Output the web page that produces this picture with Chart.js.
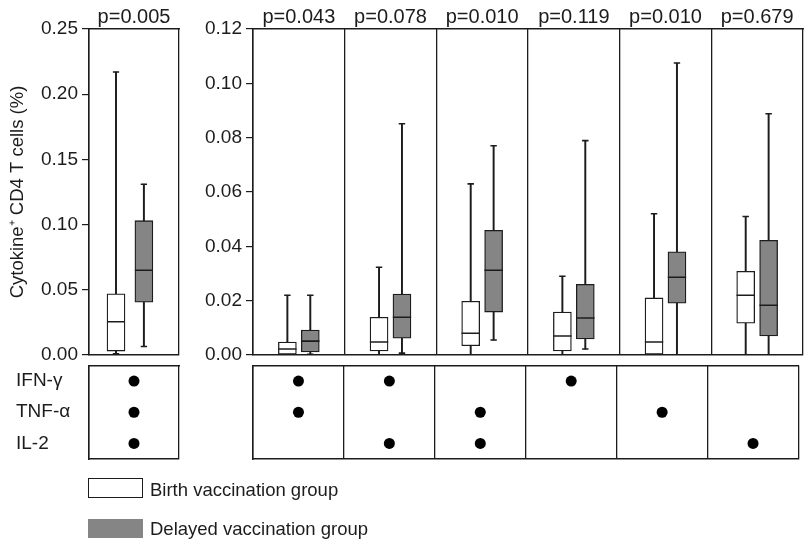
<!DOCTYPE html>
<html>
<head>
<meta charset="utf-8">
<script src="https://cdn.jsdelivr.net/npm/chart.js@4/dist/chart.umd.min.js"></script>
<style>
  body { margin: 0; background: #fff; width: 804px; height: 540px; position: relative; overflow: hidden;
         font-family: 'Liberation Sans', Arial, sans-serif; color: #1c1c1c; }
  canvas { position: absolute; }
  .key { position: absolute; left: 88px; width: 55px; box-sizing: border-box; }
  .lab { position: absolute; left: 150px; font-size: 18.5px; line-height: 22px; white-space: nowrap; }
</style>
</head>
<body>
<canvas id="boxL" width="185" height="368" style="left:0;top:0"></canvas>
<canvas id="boxR" width="622" height="368" style="left:182px;top:0"></canvas>
<canvas id="dotL" width="185" height="105" style="left:0;top:360px"></canvas>
<canvas id="dotR" width="622" height="105" style="left:182px;top:360px"></canvas>

<div class="key" style="top:478px;height:20px;border:1.5px solid #1c1c1c;background:#fff"></div>
<div class="lab" style="top:479px">Birth vaccination group</div>
<div class="key" style="top:519px;height:19px;background:#858585"></div>
<div class="lab" style="top:518px">Delayed vaccination group</div>

<script>
// Cytokine+ CD4 T cells, birth vs delayed BCG vaccination.
// Five-number summaries per panel: [min, q1, median, q3, max]

const cytokines = ['IFN-γ', 'TNF-α', 'IL-2'];

// left panel: triple producers, 0-0.25 scale
const leftP = ['p=0.005'];
const leftTicks = [0, 0.05, 0.10, 0.15, 0.20, 0.25];
const leftBirth = [[0.001, 0.003, 0.0255, 0.047, 0.217]];
const leftDelayed = [[0.0065, 0.0405, 0.065, 0.103, 0.131]];
const leftCombos = [['IFN-γ', 'TNF-α', 'IL-2']];

// right panels: double and single producers, 0-0.12 scale
const rightP = ['p=0.043', 'p=0.078', 'p=0.010', 'p=0.119', 'p=0.010', 'p=0.679'];
const rightTicks = [0, 0.02, 0.04, 0.06, 0.08, 0.10, 0.12];
const rightBirth = [
  [0, 0.0003, 0.0022, 0.0048, 0.022],
  [0, 0.0015, 0.0048, 0.0139, 0.0323],
  [0, 0.0034, 0.008, 0.0198, 0.063],
  [0, 0.0015, 0.007, 0.0158, 0.029],
  [0, 0.0003, 0.0048, 0.021, 0.052],
  [0, 0.0117, 0.022, 0.0308, 0.051]
];
const rightDelayed = [
  [0.0003, 0.0011, 0.0051, 0.0092, 0.022],
  [0.0007, 0.0062, 0.0139, 0.0224, 0.0851],
  [0.0055, 0.0158, 0.0312, 0.0459, 0.077],
  [0.0022, 0.0059, 0.0136, 0.026, 0.0789],
  [0, 0.0191, 0.0286, 0.038, 0.1075],
  [0, 0.007, 0.0183, 0.0422, 0.0888]
];
const rightCombos = [['IFN-γ', 'TNF-α'], ['IFN-γ', 'IL-2'], ['TNF-α', 'IL-2'], ['IFN-γ'], ['TNF-α'], ['IL-2']];

const INK = '#1c1c1c';
const GREY = '#858585';

Chart.defaults.font.family = "'Liberation Sans', Arial, sans-serif";
Chart.defaults.color = INK;
Chart.defaults.animation = false;
Chart.defaults.responsive = false;
Chart.defaults.events = [];
Chart.defaults.plugins.legend.display = false;
Chart.defaults.plugins.tooltip.enabled = false;

// pin axis sizes so the panels line up across canvases
const noPad = a => { a.paddingLeft = a.paddingRight = a.paddingTop = a.paddingBottom = 0; };
const fitW = w => a => { a.width = w; noPad(a); };
const fitH = h => a => { a.height = h; noPad(a); };

// whisker (thin bar), box (floating bar), median + caps (broken line)
function boxSets(stats, offset, fill) {
  const xs = stats.map((s, i) => i + offset);
  const marks = [];
  stats.forEach((s, i) => {
    const c = xs[i];
    marks.push({ x: c - 0.1, y: s[2] }, { x: c + 0.1, y: s[2] }, { x: c, y: null });
    marks.push({ x: c - 0.035, y: s[0] }, { x: c + 0.035, y: s[0] }, { x: c, y: null });
    marks.push({ x: c - 0.035, y: s[4] }, { x: c + 0.035, y: s[4] }, { x: c, y: null });
  });
  return [
    { type: 'bar', xAxisID: 'x', data: stats.map((s, i) => ({ x: xs[i], y: [s[0], s[4]] })),
      backgroundColor: INK, barThickness: 1.3, grouped: false, order: 3 },
    { type: 'bar', xAxisID: 'x', data: stats.map((s, i) => ({ x: xs[i], y: [s[1], s[3]] })),
      backgroundColor: fill, borderColor: INK, borderWidth: 1.3, borderSkipped: false,
      barThickness: 18, grouped: false, order: 2 },
    { type: 'line', xAxisID: 'x', data: marks, borderColor: INK, borderWidth: 1.6,
      pointRadius: 0, spanGaps: false, order: 1 }
  ];
}

function drawBoxes(id, birth, delayed, pLabels, yTicks, o) {
  const n = birth.length;
  return new Chart(document.getElementById(id), {
    type: 'bar',
    data: { datasets: [...boxSets(birth, o.birthX, '#fff'), ...boxSets(delayed, o.delayX, GREY)] },
    options: {
      layout: { padding: { left: 0, right: o.right, top: 0, bottom: 13 } },
      scales: {
        x: { type: 'linear', min: 0, max: n, offset: false,
             ticks: { display: false, stepSize: 1 },
             grid: { offset: false, color: INK, lineWidth: 1.3, drawTicks: false },
             border: { color: INK, width: 1.5 }, afterFit: fitH(0) },
        xTop: { type: 'linear', position: 'top', min: 0, max: n, offset: false,
             afterBuildTicks: a => { a.ticks = pLabels.map((p, i) => ({ value: i + 0.5 })); },
             ticks: { callback: (v, i) => pLabels[i], autoSkip: false, maxRotation: 0, padding: 0, font: { size: 20 } },
             grid: { display: false, drawTicks: false },
             border: { color: INK, width: 1.5 }, afterFit: fitH(29) },
        y: { min: 0, max: yTicks[yTicks.length - 1],
             afterBuildTicks: a => { a.ticks = yTicks.map(v => ({ value: v })); },
             ticks: { callback: v => v.toFixed(2), font: { size: 19 }, padding: 4 },
             grid: { drawOnChartArea: false, color: INK, lineWidth: 1.2, tickLength: 7 },
             border: { color: INK, width: 1.5 },
             title: o.title
               ? { display: true, text: o.title, font: { size: 18.5 }, padding: { top: 7, bottom: 0 } }
               : { display: false },
             afterFit: fitW(o.axisW) }
      }
    }
  });
}

function drawDots(id, combos, o) {
  const n = combos.length;
  return new Chart(document.getElementById(id), {
    type: 'scatter',
    data: { datasets: [{
      data: combos.flatMap((c, i) => c.map(k => ({ x: i + 0.5, y: k }))),
      backgroundColor: '#000', borderWidth: 0, pointRadius: 5.5
    }] },
    options: {
      layout: { padding: { left: o.left, right: o.right, top: 4, bottom: 6 } },
      scales: {
        x: { type: 'linear', min: 0, max: n, ticks: { display: false, stepSize: 1 },
             grid: { color: INK, lineWidth: 1.3, drawTicks: false },
             border: { color: INK, width: 1.5 }, afterFit: fitH(0) },
        xTop: { type: 'linear', position: 'top', min: 0, max: n, ticks: { display: false },
             grid: { display: false, drawTicks: false },
             border: { color: INK, width: 1.5 }, afterFit: fitH(0) },
        y: { type: 'category', labels: cytokines, offset: true,
             ticks: { display: o.labels, crossAlign: 'far', font: { size: 19 } },
             grid: { display: false, drawTicks: false },
             border: { color: INK, width: 1.5 }, afterFit: fitW(o.axisW) }
      }
    }
  });
}

drawBoxes('boxL', leftBirth, leftDelayed, leftP, leftTicks,
  { birthX: 0.3, delayX: 0.61, right: 6, axisW: 89, title: 'Cytokine⁺ CD4 T cells (%)' });
drawBoxes('boxR', rightBirth, rightDelayed, rightP, rightTicks,
  { birthX: 0.375, delayX: 0.625, right: 1, axisW: 71 });
drawDots('dotL', leftCombos, { left: 16, right: 6, axisW: 73, labels: true });
drawDots('dotR', rightCombos, { left: 0, right: 1, axisW: 71, labels: false });
</script>
</body>
</html>
